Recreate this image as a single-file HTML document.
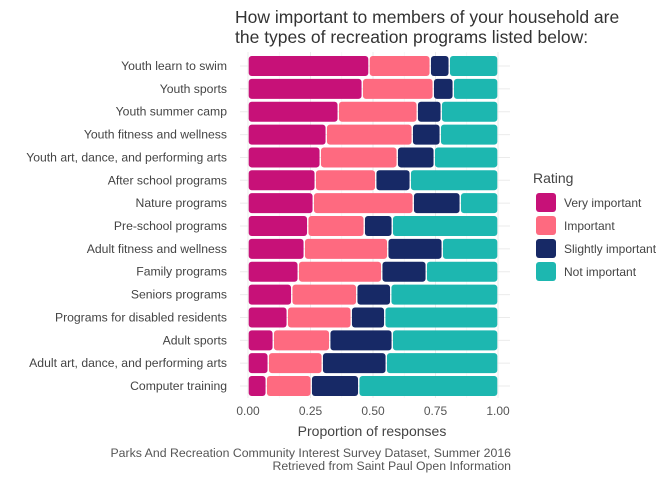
<!DOCTYPE html>
<html><head><meta charset="utf-8"><style>
body{margin:0;background:#fff;font-family:"Liberation Sans",sans-serif}
svg text{font-family:"Liberation Sans",sans-serif}
</style></head><body>
<svg id="c" width="672" height="480">
<text x="235" y="23" font-size="17.5" fill="#333">How important to members of your household are</text>
<text x="235" y="43" font-size="17.5" fill="#333">the types of recreation programs listed below:</text>
<g id="grid"></g><g id="bars"></g><g id="ylab"></g><g id="xlab"></g>
<text x="372" y="436" font-size="14" fill="#444" text-anchor="middle">Proportion of responses</text>
<text x="511" y="457" font-size="12.3" fill="#555" text-anchor="end">Parks And Recreation Community Interest Survey Dataset, Summer 2016</text>
<text x="511" y="470" font-size="12.3" fill="#555" text-anchor="end">Retrieved from Saint Paul Open Information</text>
<text x="533" y="183" font-size="14" fill="#444">Rating</text>
<g id="legend"></g>
</svg>
<script>
const categories=["Youth learn to swim","Youth sports","Youth summer camp","Youth fitness and wellness","Youth art, dance, and performing arts","After school programs","Nature programs","Pre-school programs","Adult fitness and wellness","Family programs","Seniors programs","Programs for disabled residents","Adult sports","Adult art, dance, and performing arts","Computer training"];
const veryImportant=[0.484,0.457,0.361,0.313,0.289,0.269,0.261,0.239,0.225,0.201,0.175,0.157,0.101,0.081,0.073];
const important=[0.245,0.284,0.316,0.344,0.308,0.242,0.400,0.226,0.334,0.334,0.260,0.256,0.226,0.216,0.180];
const slightlyImportant=[0.076,0.080,0.096,0.112,0.148,0.138,0.188,0.112,0.218,0.178,0.136,0.134,0.250,0.256,0.190];
const seriesNames=["Very important","Important","Slightly important","Not important"];
const xTicks=[0,0.25,0.5,0.75,1];
const xTickLabels=["0.00","0.25","0.50","0.75","1.00"];
const colors=["#c71178","#fe6a80","#172966","#1db7b0"];
const ns="http://www.w3.org/2000/svg";
const x=v=>248+v*250;
const y=i=>66+i*22.86;
function mk(t,a,p){const e=document.createElementNS(ns,t);for(const k in a)e.setAttribute(k,a[k]);p.appendChild(e);return e;}
const G=document.getElementById('grid'),B=document.getElementById('bars'),YL=document.getElementById('ylab'),XL=document.getElementById('xlab'),L=document.getElementById('legend');
xTicks.forEach((t,j)=>{
 const l=mk('line',{x1:x(t),x2:x(t),y1:52,y2:398,stroke:'#ebebeb','stroke-width':1},G);
 
 
 if(j<4){const m=mk('line',{x1:x(t+0.125),x2:x(t+0.125),y1:52,y2:398,stroke:'#f3f3f3','stroke-width':0.6},G);
 
 }
 const tx=mk('text',{x:x(t),y:415,'font-size':12,fill:'#555','text-anchor':'middle'},XL);
 tx.textContent=xTickLabels[j];
 
 
});
categories.forEach((c,i)=>{
 const g=mk('line',{x1:240,x2:510,y1:y(i),y2:y(i),stroke:'#ebebeb','stroke-width':1},G);
 
 
 const t=mk('text',{x:227,y:y(i)+4,'font-size':12.2,fill:'#444','text-anchor':'end'},YL);
 t.textContent=c;
 
 
 const v=[veryImportant[i],important[i],slightlyImportant[i]];
 v.push(1-v[0]-v[1]-v[2]);
 let s=0;
 v.forEach((d,k)=>{
  const r=mk('rect',{x:x(s)+0.7,y:y(i)-10,width:Math.max(0,d*250-1.4),height:20,rx:3,fill:colors[k]},B);
  
  
  s+=d;
 });
});
seriesNames.forEach((n,k)=>{
 const r=mk('rect',{x:536,y:193+k*23,width:20,height:19,rx:3,fill:colors[k]},L);
 
 
 const t=mk('text',{x:564,y:207+k*23,'font-size':12,fill:'#444'},L);
 t.textContent=n;
 
 
});
</script>
</body></html>
